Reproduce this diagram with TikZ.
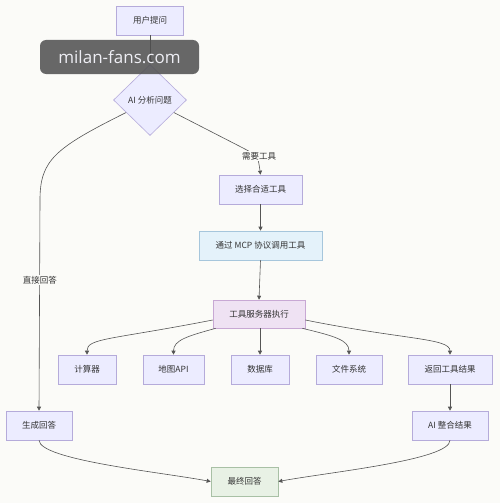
\documentclass[tikz,border=0pt]{standalone}
\usepackage{fontspec}
\setmainfont{Noto Sans CJK SC}
\newfontfamily\wmfont{Open Sans}
\usetikzlibrary{arrows.meta,shapes.geometric,calc}
\definecolor{bg}{HTML}{FBFBF8}
\definecolor{boxfill}{HTML}{ECECFF}
\definecolor{boxline}{HTML}{B5ABDA}
\definecolor{bluefill}{HTML}{E4F2FA}
\definecolor{blueline}{HTML}{A6C6DC}
\definecolor{pinkfill}{HTML}{EFE2F3}
\definecolor{pinkline}{HTML}{C8A8D4}
\definecolor{greenfill}{HTML}{E8F1E5}
\definecolor{greenline}{HTML}{A8C0A5}
\definecolor{txt}{HTML}{333333}
\definecolor{edgec}{HTML}{555555}
\definecolor{wmfill}{HTML}{4E4E4E}
\definecolor{wmtext}{HTML}{EEEEF4}
\tikzset{
  box/.style={draw=boxline, fill=boxfill, line width=0.6pt, minimum height=29pt, inner sep=0pt,
    font=\fontsize{8.5}{10}\selectfont, text=txt},
  decide/.style={diamond, draw=boxline, fill=boxfill, line width=0.6pt, inner sep=0pt,
    minimum width=73pt, minimum height=71pt, font=\fontsize{8.5}{10}\selectfont, text=txt},
  edge/.style={draw=edgec, line width=0.6pt, -{Triangle[length=4pt,width=4pt]}},
  elabel/.style={fill=bg, inner sep=1.5pt, font=\fontsize{8.5}{10}\selectfont, text=txt},
  watermark/.style={fill=wmfill, fill opacity=0.85, text opacity=1, rounded corners=6pt,
    text=wmtext, font=\wmfont\fontsize{17}{20}\selectfont, inner sep=0pt,
    minimum width=159pt, minimum height=34pt}
}
\begin{document}
\begin{tikzpicture}[x=1pt,y=-1pt]
\useasboundingbox (0,0) rectangle (500,503);
\fill[bg] (0,0) rectangle (500,503);

\node[box, minimum width=67pt] (ask) at (150,20.5) {用户提问};
\node[decide] (q) at (150,100) {AI 分析问题};
\node[box, minimum width=83pt] (sel) at (260.5,189.5) {选择合适工具};
\node[box, minimum width=123pt, fill=bluefill, draw=blueline] (mcp) at (260.5,245.5) {通过 MCP 协议调用工具};
\node[box, minimum width=92pt, minimum height=28pt, fill=pinkfill, draw=pinkline] (srv) at (259,314) {工具服务器执行};
\node[box, minimum width=58pt] (calc) at (87,369.5) {计算器};
\node[box, minimum width=61pt] (map) at (173.5,369.5) {地图API};
\node[box, minimum width=58pt] (db) at (260,369.5) {数据库};
\node[box, minimum width=66pt] (fs) at (349,369.5) {文件系统};
\node[box, minimum width=84pt] (ret) at (450,369.5) {返回工具结果};
\node[box, minimum width=66pt] (gen) at (39,425.5) {生成回答};
\node[box, minimum width=76pt] (integ) at (450,425.5) {AI 整合结果};
\node[box, minimum width=67pt, fill=greenfill, draw=greenline] (final) at (244.5,481.5) {最终回答};

% edges
\draw[edge] (ask.south) -- (q.north);
\coordinate (ql) at ($(q.west)!0.35!(q.south)$);
\coordinate (qr) at ($(q.east)!0.35!(q.south)$);
\draw[edge] (ql) .. controls (55,148) and (40,160) .. (40,200) -- (gen.north);
\node[elabel] (lbl1) at (40,280) {直接回答};
\draw[edge] (qr) -- (243,148) .. controls (258,156) .. (sel.north);
\node[elabel] (lbl2) at (259,156) {需要工具};
\draw[edge] (sel.south) -- (mcp.north);
\draw[edge] (mcp.south) -- (srv.north);
\draw[edge] ([yshift=-6pt]srv.west) .. controls (110,340) and (87,338) .. (calc.north);
\draw[edge] ([xshift=3pt]srv.south west) .. controls (188,336) and (173.5,340) .. (map.north);
\draw[edge] (srv.south -| db.north) -- (db.north);
\draw[edge] ([xshift=-3pt]srv.south east) .. controls (334,336) and (349,340) .. (fs.north);
\draw[edge] ([yshift=-6pt]srv.east) .. controls (405,340) and (450,338) .. (ret.north);
\draw[edge] (ret.south) -- (integ.north);
\draw[edge] (gen.south) .. controls (40,460) and (160,472) .. (final.west);
\draw[edge] (integ.south) .. controls (450,460) and (330,472) .. (final.east);

% watermark overlay
\node[watermark] (wm) at (119.5,57) {milan-fans.com};
\end{tikzpicture}
\end{document}
